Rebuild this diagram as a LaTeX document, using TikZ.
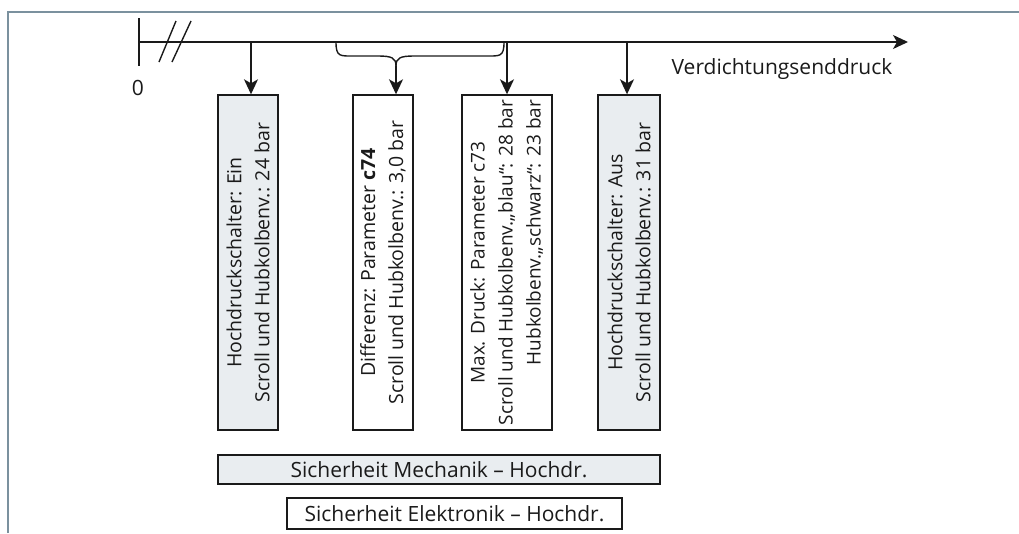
\documentclass[tikz,border=0pt]{standalone}
\usepackage{fontspec}
\setmainfont{Open Sans}
\usetikzlibrary{arrows.meta}
\definecolor{framec}{HTML}{7B919E}
\definecolor{boxfill}{HTML}{E9EDF0}
\definecolor{ink}{HTML}{1A1A1A}
\begin{document}
\begin{tikzpicture}[x=1pt,y=-1pt,
  line/.style={draw=ink, line width=1.4pt},
  arr/.style={line, -{Stealth[length=15pt,width=14pt,inset=4pt]}},
  box/.style={draw=ink, line width=1.4pt, inner sep=0pt},
  grey/.style={box, fill=boxfill},
  lbl/.style={font=\fontsize{21}{27}\selectfont, text=ink, inner sep=0pt, align=center},
  vlbl/.style={font=\fontsize{19.5}{28}\selectfont, text=ink, inner sep=0pt, align=center, rotate=90}]
\useasboundingbox (0,0) rectangle (1019,533);
\draw[framec, line width=1.5pt] (8,533) -- (8,12) -- (1019,12);

% axis
\coordinate (o) at (139,42);
\coordinate (e) at (908,42);
\draw[arr] (o) -- (e);
\coordinate (tt) at (139,18);
\coordinate (tb) at (139,66);
\draw[line] (tt) -- (tb);
\coordinate (s1a) at (159,62); \coordinate (s1b) at (176,21);
\coordinate (s2a) at (172,62); \coordinate (s2b) at (191,21);
\draw[line] (s1a) -- (s1b);
\draw[line] (s2a) -- (s2b);
\node[lbl] (zero) at (138,88) {0};
\node[lbl] (vd) at (782,69) {Verdichtungsenddruck};

% boxes
\node[grey, minimum width=60pt, minimum height=335pt] (b1) at (248,262.5) {};
\node[box, minimum width=60pt, minimum height=335pt] (b2) at (383,262.5) {};
\node[box, minimum width=90pt, minimum height=335pt] (b3) at (507,262.5) {};
\node[grey, minimum width=62pt, minimum height=335pt] (b4) at (629,262.5) {};

\node[vlbl] (t1) at (b1.center) {Hochdruckschalter: Ein\\Scroll und Hubkolbenv.: 24 bar};
\node[vlbl] (t2) at (b2.center) {Differenz: Parameter \textbf{c74}\\Scroll und Hubkolbenv.: 3,0 bar};
\node[vlbl, font=\fontsize{19}{28}\selectfont] (t3) at (b3.center) {\begin{tabular}{@{}c@{}}Max. Druck: Parameter c73\\Scroll und Hubkolbenv.„blau“: 28 bar\\\hfill Hubkolbenv.„schwarz“: 23 bar\end{tabular}};
\node[vlbl] (t4) at (b4.center) {Hochdruckschalter: Aus\\Scroll und Hubkolbenv.: 31 bar};

\node[grey, minimum width=442pt, minimum height=29pt] (m) at (439,469.5) {};
\node[lbl] (mt) at (m.center) {Sicherheit Mechanik – Hochdr.};
\node[box, minimum width=335pt, minimum height=31pt] (el) at (454.5,513.5) {};
\node[lbl] (elt) at (el.center) {Sicherheit Elektronik – Hochdr.};

% arrows
\coordinate (a1) at (251,42);
\coordinate (a3) at (507,42);
\coordinate (a4) at (627,42);
\draw[arr] (a1) -- (a1 |- b1.north);
\draw[arr] (a3) -- (a3 |- b3.north);
\draw[arr] (a4) -- (a4 |- b4.north);

% brace
\coordinate (bl) at (336,42);
\coordinate (br) at (504,42);
\coordinate (bt) at (396,66);
\draw[line] (bl) .. controls (336,57) and (340,56) .. (354,56) -- (378,56) .. controls (392,56) and (396,58) .. (bt);
\draw[line] (br) .. controls (504,57) and (500,56) .. (486,56) -- (414,56) .. controls (400,56) and (396,58) .. (bt);
\draw[arr] (bt) -- (bt |- b2.north);
\end{tikzpicture}
\end{document}
